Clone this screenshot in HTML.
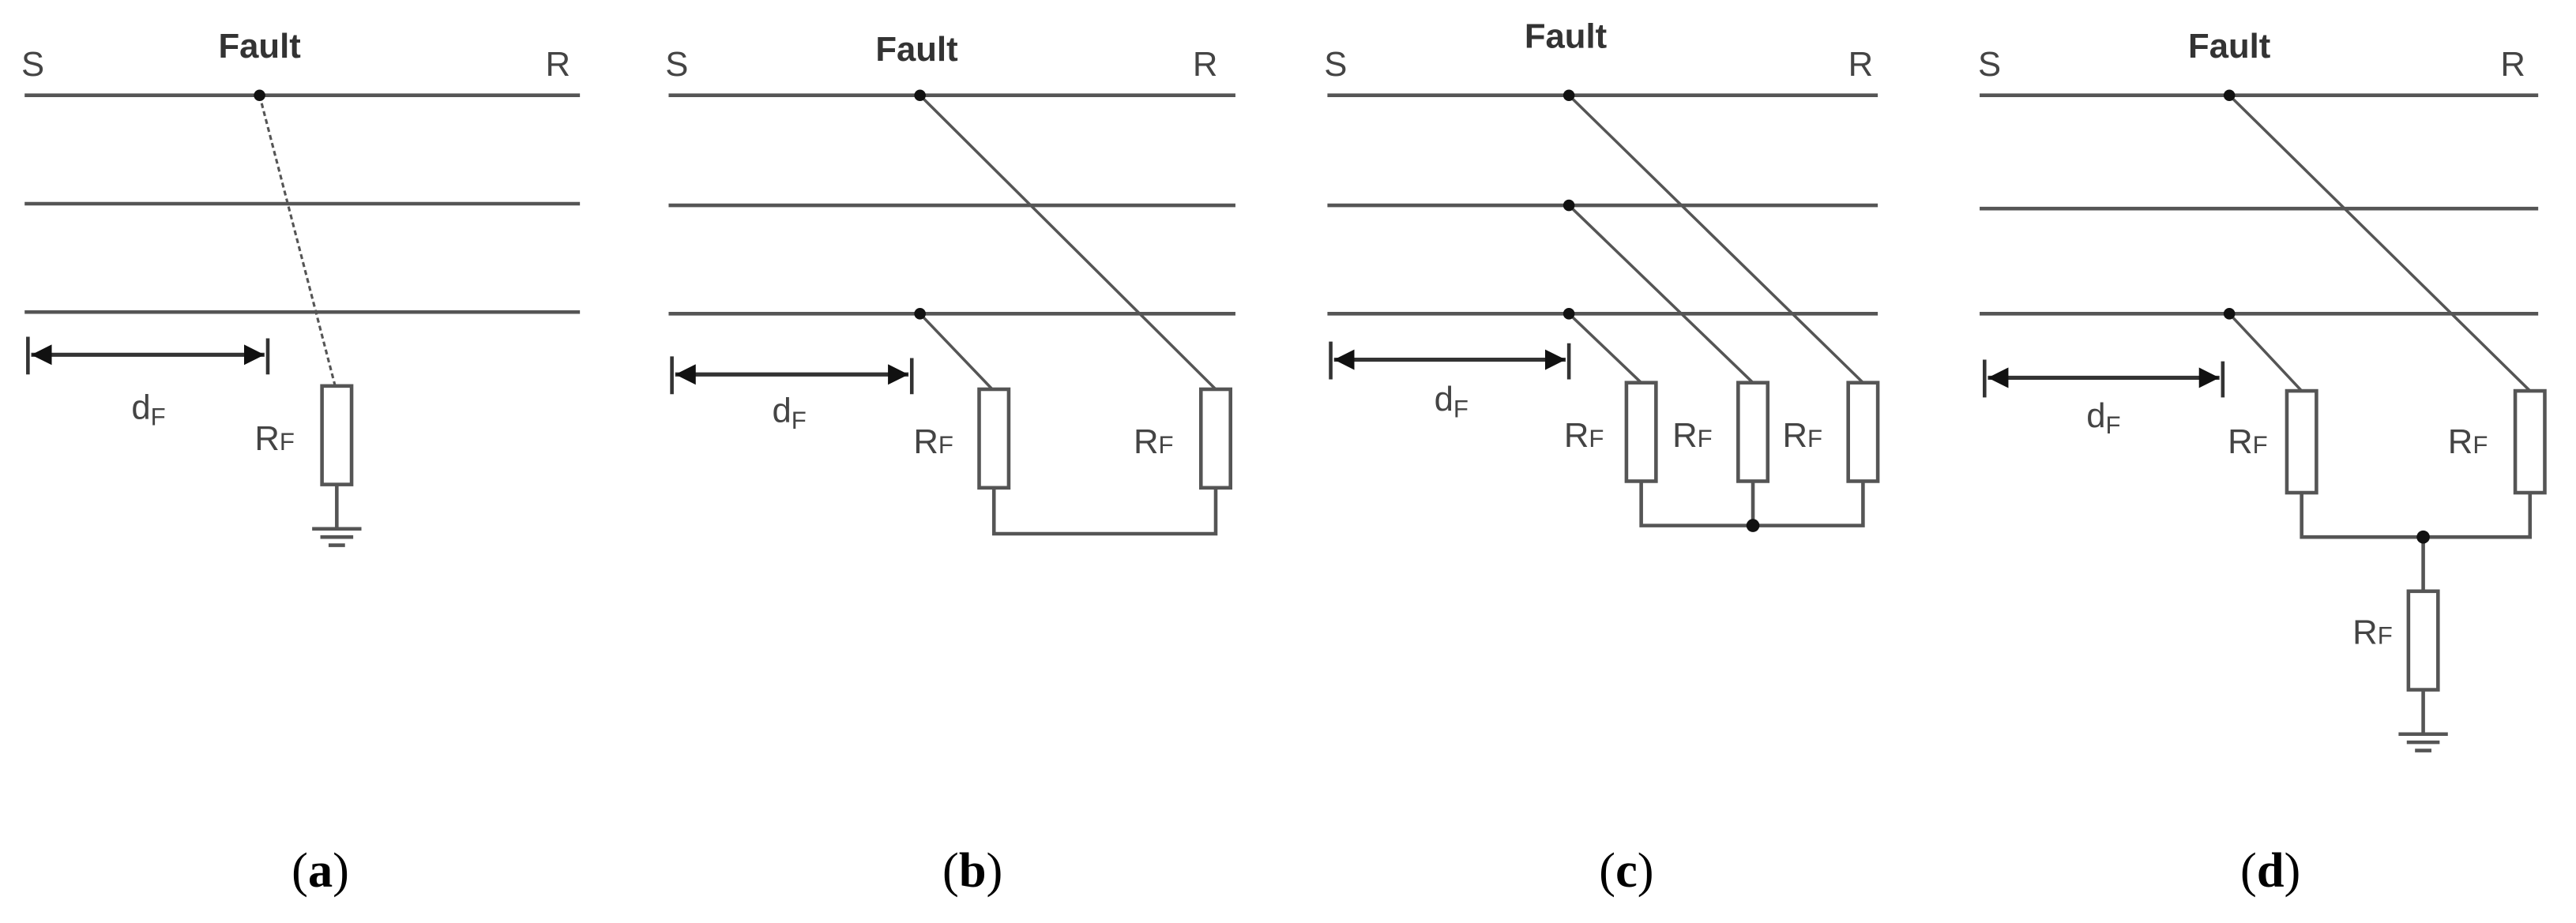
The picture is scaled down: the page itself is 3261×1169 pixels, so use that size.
<!DOCTYPE html>
<html><head><meta charset="utf-8"><style>html,body{margin:0;padding:0;background:#fff}svg{display:block}</style></head>
<body>
<svg width="3261" height="1169" viewBox="0 0 1568 562" xmlns="http://www.w3.org/2000/svg" font-family="Liberation Sans, sans-serif">
<defs>
<marker id="ah" viewBox="0 0 10 10" refX="10" refY="5" markerWidth="5" markerHeight="5" orient="auto-start-reverse" markerUnits="strokeWidth"><path d="M0,0 L10,5 L0,10z" fill="#111"/></marker>
</defs>
<g stroke="#555" stroke-width="2.2" fill="none">
<!-- panel a -->
<path d="M15 58H353M15 124H353M15 190H353"/>
<path d="M158 58L204 235" stroke-dasharray="3,2" stroke-width="1.5"/>
<rect x="196" y="235" width="18" height="60" fill="#fff"/>
<path d="M205 295V322M190 322H220M195 327H215M200 332H210"/>
<path d="M17 205V228M163 206V228" stroke="#333"/>
<path d="M19 216H161" stroke="#333" stroke-width="2.5" marker-start="url(#ah)" marker-end="url(#ah)"/>
<!-- panel b -->
<path d="M407 58H752M407 125H752M407 191H752"/>
<path d="M560 58L740 237M560 191L604 237" stroke-width="1.7"/>
<rect x="596" y="237" width="18" height="60" fill="#fff"/>
<rect x="731" y="237" width="18" height="60" fill="#fff"/>
<path d="M605 297V325H740V297"/>
<path d="M409 217V240M555 218V240" stroke="#333"/>
<path d="M411 228H553" stroke="#333" stroke-width="2.5" marker-start="url(#ah)" marker-end="url(#ah)"/>
<!-- panel c -->
<path d="M808 58H1143M808 125H1143M808 191H1143"/>
<path d="M955 58L1134 233M955 125L1067 233M955 191L999 233" stroke-width="1.7"/>
<rect x="990" y="233" width="18" height="60" fill="#fff"/>
<rect x="1058" y="233" width="18" height="60" fill="#fff"/>
<rect x="1125" y="233" width="18" height="60" fill="#fff"/>
<path d="M999 293V320H1134V293M1067 293V320"/>
<path d="M810 208V231M955 209V231" stroke="#333"/>
<path d="M812 219H953" stroke="#333" stroke-width="2.5" marker-start="url(#ah)" marker-end="url(#ah)"/>
<!-- panel d -->
<path d="M1205 58H1545M1205 127H1545M1205 191H1545"/>
<path d="M1357 58L1540 238M1357 191L1401 238" stroke-width="1.7"/>
<rect x="1392" y="238" width="18" height="62" fill="#fff"/>
<rect x="1531" y="238" width="18" height="62" fill="#fff"/>
<path d="M1401 300V327H1540V300M1475 327V360"/>
<rect x="1466" y="360" width="18" height="60" fill="#fff"/>
<path d="M1475 420V447M1460 447H1490M1465 452H1485M1470 457H1480"/>
<path d="M1208 219V242M1353 220V242" stroke="#333"/>
<path d="M1210 230H1351" stroke="#333" stroke-width="2.5" marker-start="url(#ah)" marker-end="url(#ah)"/>
</g>
<g fill="#111">
<circle cx="158" cy="58" r="3.5"/>
<circle cx="560" cy="58" r="3.5"/><circle cx="560" cy="191" r="3.5"/>
<circle cx="955" cy="58" r="3.5"/><circle cx="955" cy="125" r="3.5"/><circle cx="955" cy="191" r="3.5"/><circle cx="1067" cy="320" r="4"/>
<circle cx="1357" cy="58" r="3.5"/><circle cx="1357" cy="191" r="3.5"/><circle cx="1475" cy="327" r="4"/>
</g>
<g fill="#444" font-size="21">
<text x="13" y="46">S</text><text x="332" y="46">R</text>
<text x="158" y="35" text-anchor="middle" font-weight="bold" fill="#333">Fault</text>
<text x="80" y="255">d<tspan font-size="15" dy="4">F</tspan></text>
<text x="155" y="274">R<tspan font-size="15">F</tspan></text>

<text x="405" y="46">S</text><text x="726" y="46">R</text>
<text x="558" y="37" text-anchor="middle" font-weight="bold" fill="#333">Fault</text>
<text x="470" y="257">d<tspan font-size="15" dy="4">F</tspan></text>
<text x="556" y="276">R<tspan font-size="15">F</tspan></text>
<text x="690" y="276">R<tspan font-size="15">F</tspan></text>

<text x="806" y="46">S</text><text x="1125" y="46">R</text>
<text x="953" y="29" text-anchor="middle" font-weight="bold" fill="#333">Fault</text>
<text x="873" y="250">d<tspan font-size="15" dy="4">F</tspan></text>
<text x="952" y="272">R<tspan font-size="15">F</tspan></text>
<text x="1018" y="272">R<tspan font-size="15">F</tspan></text>
<text x="1085" y="272">R<tspan font-size="15">F</tspan></text>

<text x="1204" y="46">S</text><text x="1522" y="46">R</text>
<text x="1357" y="35" text-anchor="middle" font-weight="bold" fill="#333">Fault</text>
<text x="1270" y="260">d<tspan font-size="15" dy="4">F</tspan></text>
<text x="1356" y="276">R<tspan font-size="15">F</tspan></text>
<text x="1490" y="276">R<tspan font-size="15">F</tspan></text>
<text x="1432" y="392">R<tspan font-size="15">F</tspan></text>
</g>
<g font-family="Liberation Serif, serif" font-size="30" fill="#000" text-anchor="middle">
<text x="195" y="540">(<tspan font-weight="bold">a</tspan>)</text>
<text x="592" y="540">(<tspan font-weight="bold">b</tspan>)</text>
<text x="990" y="540">(<tspan font-weight="bold">c</tspan>)</text>
<text x="1382" y="540">(<tspan font-weight="bold">d</tspan>)</text>
</g>
</svg>
</body></html>
